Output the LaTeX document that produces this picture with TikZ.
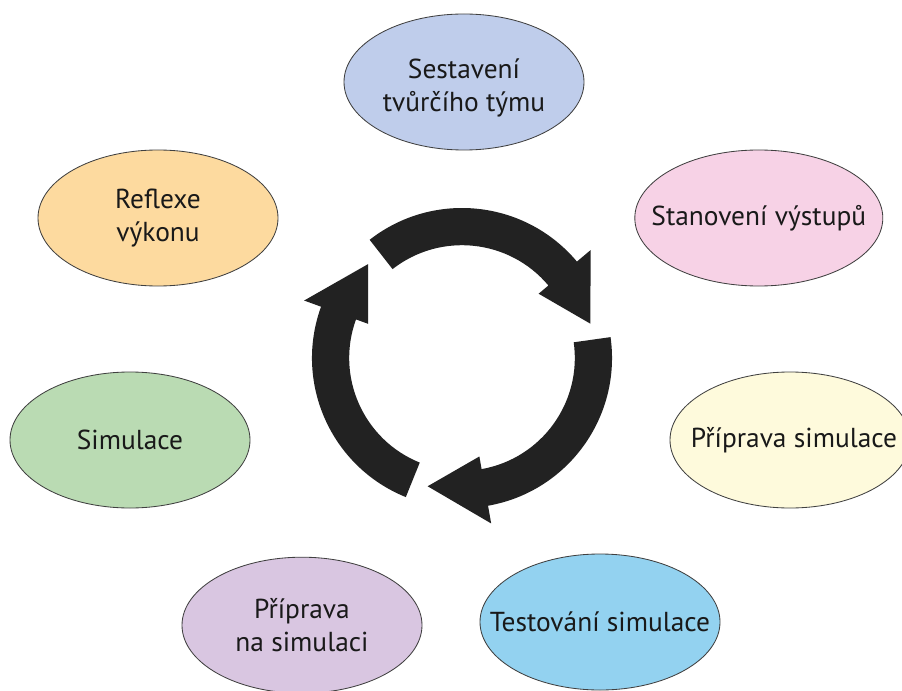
\documentclass[tikz,border=0pt]{standalone}
\usepackage{fontspec}
\setmainfont{PT Sans}
\usetikzlibrary{shapes.geometric}

\definecolor{teamblue}{HTML}{BFCDEB}
\definecolor{outpink}{HTML}{F7D2E6}
\definecolor{prepcream}{HTML}{FEFADC}
\definecolor{testblue}{HTML}{93D2F0}
\definecolor{prelilac}{HTML}{D9C6E1}
\definecolor{simgreen}{HTML}{BADBB3}
\definecolor{reflpeach}{HTML}{FDDA9F}
\definecolor{cycledark}{HTML}{222222}

\begin{document}
\begin{tikzpicture}[
    bubble/.style={ellipse, draw=black!75, line width=0.6pt, minimum width=6cm, minimum height=3.4cm, inner sep=0pt},
    phasetext/.style={align=center, font=\fontsize{19.5}{24}\selectfont, text=black!90}]
        \useasboundingbox (0,0) rectangle (22.55,17.25);
        % phases
        \node[bubble, fill=teamblue] (team) at (11.6,15.2) {};
        \node[phasetext] (teamt) at (11.6,15.05) {Sestavení\\tvůrčího týmu};
        \node[bubble, fill=outpink, minimum width=6.2cm] (outputs) at (18.97,11.8) {};
        \node[phasetext] (outputst) at (outputs) {Stanovení výstupů};
        \node[bubble, fill=prepcream] (prep) at (19.75,6.25) {};
        \node[phasetext] (prept) at (19.85,6.25) {Příprava simulace};
        \node[bubble, fill=testblue] (test) at (15.0,1.7) {};
        \node[phasetext] (testt) at (test) {Testování simulace};
        \node[bubble, fill=prelilac] (presim) at (7.55,1.62) {};
        \node[phasetext] (presimt) at (presim) {Příprava\\na simulaci};
        \node[bubble, fill=simgreen] (sim) at (3.25,6.25) {};
        \node[phasetext] (simt) at (sim) {Simulace};
        \node[bubble, fill=reflpeach] (refl) at (3.95,11.8) {};
        \node[phasetext] (reflt) at (refl) {Reflexe\\výkonu};
        % cycle arrows
        \coordinate (hub) at (11.55,8.3);
        \foreach \a in {128,8,-112} {
            \fill[cycledark, shift={(hub)}] (\a:3.75cm)
                arc[start angle=\a, end angle=\a-88, radius=3.75cm]
                -- (\a-88:4.2cm) -- (\a-113:3.32cm) -- (\a-88:2.5cm) -- (\a-88:2.82cm)
                arc[start angle=\a-88, end angle=\a, radius=2.82cm] -- cycle;
        }
    \end{tikzpicture}
\end{document}
